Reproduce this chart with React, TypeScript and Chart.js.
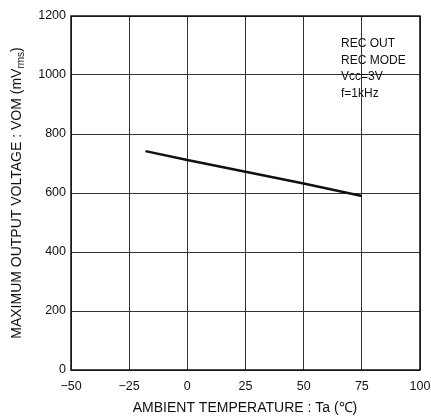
import React, { useEffect, useRef } from "react";
import { Chart, registerables } from "chart.js";

Chart.register(...registerables);

const temperatures = [-18, 0, 25, 50, 75];
const voltages = [742, 712, 672, 632, 590];
const xTicks = [-50, -25, 0, 25, 50, 75, 100];
const yTicks = [0, 200, 400, 600, 800, 1000, 1200];
const noteLines = ["REC OUT", "REC MODE", "Vcc=3V", "f=1kHz"];
const xTitle = "AMBIENT TEMPERATURE : Ta (\u2103)";
const yTitleMain = "MAXIMUM OUTPUT VOLTAGE : VOM (mV";
const yTitleSub = "rms";
const yTitleEnd = ")";

const FONT = "'Liberation Sans', Arial, sans-serif";

const annotations = {
  id: "annotations",
  afterDraw(chart: any) {
    const ctx = chart.ctx;
    const area = chart.chartArea;
    ctx.save();
    ctx.fillStyle = "#111";
    // notes
    ctx.font = `12px ${FONT}`;
    ctx.textAlign = "left";
    ctx.textBaseline = "middle";
    noteLines.forEach((t, i) => {
      ctx.fillText(t, 341, 44 + i * 16.5);
    });
    // x title
    ctx.font = `14px ${FONT}`;
    ctx.textAlign = "center";
    ctx.fillText(xTitle, 245, 408);
    // y title with subscript
    ctx.translate(17, 193);
    ctx.rotate(-Math.PI / 2);
    ctx.font = `14px ${FONT}`;
    const w1 = ctx.measureText(yTitleMain).width;
    ctx.font = `10px ${FONT}`;
    const w2 = ctx.measureText(yTitleSub).width;
    ctx.font = `14px ${FONT}`;
    const w3 = ctx.measureText(yTitleEnd).width;
    let x = -(w1 + w2 + w3) / 2;
    ctx.textAlign = "left";
    ctx.fillText(yTitleMain, x, 0);
    x += w1;
    ctx.font = `10px ${FONT}`;
    ctx.fillText(yTitleSub, x, 4);
    x += w2;
    ctx.font = `14px ${FONT}`;
    ctx.fillText(yTitleEnd, x, 0);
    ctx.restore();
    // frame
    ctx.save();
    ctx.strokeStyle = "#111";
    ctx.lineWidth = 1.5;
    ctx.strokeRect(area.left, area.top, area.right - area.left, area.bottom - area.top);
    ctx.restore();
  },
};

export default function App() {
  const ref = useRef<HTMLCanvasElement>(null);
  useEffect(() => {
    if (!ref.current) return;
    const chart = new Chart(ref.current, {
      type: "scatter",
      data: {
        datasets: [
          {
            data: temperatures.map((t, i) => ({ x: t, y: voltages[i] })),
            showLine: true,
            borderColor: "#111",
            borderWidth: 2.5,
            pointRadius: 0,
            tension: 0,
          },
        ],
      },
      options: {
        animation: false,
        responsive: false,
        maintainAspectRatio: false,
        layout: { padding: { top: 16, right: 0, left: 0, bottom: 0 } },
        plugins: { legend: { display: false }, tooltip: { enabled: false } },
        scales: {
          x: {
            type: "linear",
            min: -50,
            max: 100,
            afterBuildTicks: (s: any) => {
              s.ticks = xTicks.map((v) => ({ value: v }));
            },
            afterFit: (s: any) => {
              s.height = 47;
              s.paddingRight = 11;
            },
            grid: { color: "#333", lineWidth: 1, drawTicks: false },
            border: { display: false },
            ticks: {
              color: "#111",
              font: { family: FONT, size: 12.5 },
              padding: 9,
              maxRotation: 0,
              callback: (v: any) => (v < 0 ? "\u2212" + Math.abs(v) : String(v)),
            },
          },
          y: {
            type: "linear",
            min: 0,
            max: 1200,
            afterBuildTicks: (s: any) => {
              s.ticks = yTicks.map((v) => ({ value: v }));
            },
            afterFit: (s: any) => {
              s.width = 71;
            },
            grid: { color: "#333", lineWidth: 1, drawTicks: false },
            border: { display: false },
            ticks: {
              color: "#111",
              font: { family: FONT, size: 12.5 },
              padding: 5,
              callback: (v: any) => String(v),
            },
          },
        },
      },
      plugins: [annotations],
    });
    return () => chart.destroy();
  }, []);
  return (
    <div style={{ position: "fixed", left: 0, top: 0, width: 431, height: 417, background: "#fff" }}>
      <canvas ref={ref} width={431} height={417} style={{ width: 431, height: 417 }} />
    </div>
  );
}
